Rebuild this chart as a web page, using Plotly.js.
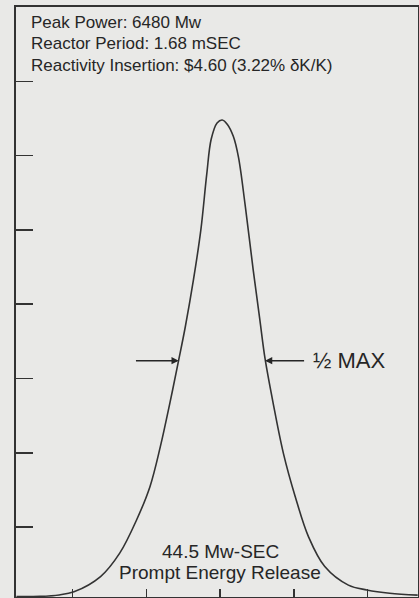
<!DOCTYPE html>
<html>
<head>
<meta charset="utf-8">
<script src="https://cdn.plot.ly/plotly-3.0.1.min.js"></script>
<style>
  html, body { margin: 0; padding: 0; background: #e9e9e7; }
  #chart { width: 419px; height: 598px; }
</style>
</head>
<body>
<div id="chart"></div>
<script>
// Time relative to peak (ms) and reactor power (MW)
const timeMs = [-13.8, -12.2, -10.9, -9.9, -8.1, -6.8, -5.65, -4.75, -4.05, -3.4, -2.8, -2.35, -1.8, -1.3, -0.9, -0.6, -0.2, 0.15, 0.5, 0.9, 1.25, 1.7, 2.25, 2.7, 3.05, 3.6, 4.3, 5.1, 6.0, 7.1, 8.7, 9.95, 11.5, 13.4];
const powerMw = [65, 68, 88, 130, 335, 650, 1100, 1545, 2080, 2670, 3250, 3700, 4330, 5000, 5750, 6220, 6440, 6480, 6420, 6260, 5980, 5340, 4460, 3790, 3270, 2670, 1990, 1410, 870, 470, 220, 155, 110, 85];

const xTickVals = [-10, -5, 0, 5, 10];
const yTickVals = [1000, 2000, 3000, 4000, 5000, 6000, 7000];

const peakPower = 6480;
const halfMaxTimes = [-2.8, 3.05];     // where the arrows touch the curve
const arrowTailTimes = [-5.8, 5.8];    // arrow tails

const infoLines = [
  "Peak Power: 6480 Mw",
  "Reactor Period: 1.68 mSEC",
  "Reactivity Insertion: $4.60 (3.22% \u03B4K/K)"
];
const energyLines = ["44.5 Mw-SEC", "Prompt Energy Release"];

const ink = '#262626';
const font = "'Liberation Sans', Arial, Helvetica, sans-serif";

const trace = {
  x: timeMs, y: powerMw, type: 'scatter', mode: 'lines',
  line: { color: '#333333', width: 1.6, shape: 'spline', smoothing: 1 },
  hoverinfo: 'skip'
};

const annotations = [];
infoLines.forEach((t, i) => {
  annotations.push({
    text: t, xref: 'paper', yref: 'paper',
    x: (29 - 16) / 402, y: (597 - (22 + i * 21.5)) / 590,
    xanchor: 'left', yanchor: 'middle', showarrow: false,
    font: { family: font, size: 17, color: ink }
  });
});
energyLines.forEach((t, i) => {
  annotations.push({
    text: t, xref: 'paper', yref: 'paper',
    x: (220 - 16) / 402, y: (597 - (551 + i * 21)) / 590,
    xanchor: 'center', yanchor: 'middle', showarrow: false,
    font: { family: font, size: 19, color: ink }
  });
});
halfMaxTimes.forEach((t, i) => {
  annotations.push({
    x: t, y: peakPower / 2, xref: 'x', yref: 'y',
    ax: arrowTailTimes[i], ay: peakPower / 2, axref: 'x', ayref: 'y',
    text: '', showarrow: true, arrowhead: 2, arrowsize: 0.9, arrowwidth: 1.6,
    arrowcolor: ink, standoff: 0
  });
});
annotations.push({
  text: '\u00BD MAX', xref: 'x', yref: 'y', x: arrowTailTimes[1] + 0.4, y: peakPower / 2,
  xanchor: 'left', yanchor: 'middle', showarrow: false,
  font: { family: font, size: 22, color: ink }
});

const layout = {
  width: 419, height: 598,
  margin: { l: 16, r: 1, t: 7, b: 1, pad: 0 },
  paper_bgcolor: '#e9e9e7', plot_bgcolor: '#e9e9e7',
  showlegend: false,
  xaxis: {
    range: [-13.83, 13.42], showgrid: false, zeroline: false,
    showline: true, mirror: true, linecolor: '#333', linewidth: 2,
    ticks: 'inside', ticklen: 8, tickwidth: 1.5, tickcolor: '#333',
    tickvals: xTickVals, showticklabels: false
  },
  yaxis: {
    range: [60, 8000], showgrid: false, zeroline: false,
    showline: true, mirror: true, linecolor: '#333', linewidth: 2,
    ticks: 'inside', ticklen: 17, tickwidth: 1.5, tickcolor: '#333',
    tickvals: yTickVals, showticklabels: false
  },
  annotations: annotations
};

Plotly.newPlot('chart', [trace], layout, { displayModeBar: false, staticPlot: true });
</script>
</body>
</html>
